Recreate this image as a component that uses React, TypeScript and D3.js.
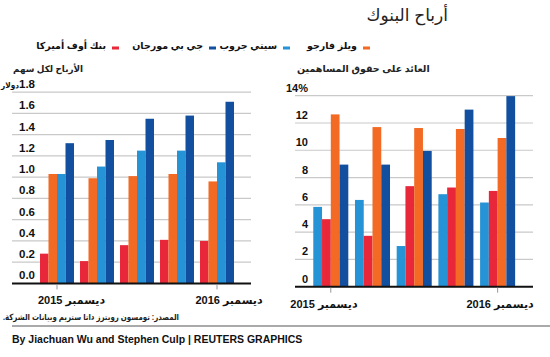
import React from "react";
import * as d3 from "d3";

const groups = ["g1", "g2", "g3", "g4", "g5"];

// EPS (dollars)
const epsSeries = ["boa", "wfc", "citi", "jpm"];
const epsBoa = [0.28, 0.21, 0.36, 0.41, 0.40];
const epsWfc = [1.03, 0.99, 1.01, 1.03, 0.96];
const epsCiti = [1.03, 1.10, 1.25, 1.25, 1.14];
const epsJpm = [1.32, 1.35, 1.55, 1.58, 1.71];
const epsTicks = [0, 0.2, 0.4, 0.6, 0.8, 1.0, 1.2, 1.4, 1.6, 1.8];

// ROE (%)
const roeSeries = ["citi", "boa", "wfc", "jpm"];
const roeCiti = [5.85, 6.36, 2.98, 6.78, 6.17];
const roeBoa = [4.95, 3.73, 7.37, 7.27, 7.02];
const roeWfc = [12.63, 11.7, 11.63, 11.56, 10.9];
const roeJpm = [8.95, 8.95, 9.95, 12.98, 13.97];
const roeTicks = [0, 2, 4, 6, 8, 10, 12, 14];

const xLabels = ["ديسمبر 2015", "ديسمبر 2016"];
const legendKeys = ["wfc", "citi", "jpm", "boa"];
const legendNames = ["ويلز فارجو", "سيتي جروب", "جي بي مورجان", "بنك أوف أميركا"];

const COLORS: Record<string, string> = {
  boa: "#e8283a",
  wfc: "#f26a24",
  citi: "#2593d5",
  jpm: "#12509f",
};

const FONT = "Arial, 'Liberation Sans', 'DejaVu Sans', sans-serif";

function Chart({
  series,
  values,
  ticks,
  yDomain,
  yRange,
  xRange,
  pInner,
  pOuter,
  gridX,
  labelX,
  labelSize,
  fmt,
  topSuffix,
  xLabelDx,
  xLabelY,
  unitLeft,
}: any) {
  const x = d3.scaleBand().domain(groups).range(xRange).paddingInner(pInner).paddingOuter(pOuter);
  const xi = d3.scaleBand().domain(series).range([0, x.bandwidth()]);
  const y = d3.scaleLinear().domain(yDomain).range(yRange);
  const ends = [groups[0], groups[groups.length - 1]];
  return (
    <g>
      {ticks.map((t: number, i: number) =>
        t === 0 ? null : (
          <line key={"g" + i} x1={gridX[0]} x2={gridX[1]} y1={y(t)} y2={y(t)} stroke="#c9c9c9" strokeWidth={1.2} />
        )
      )}
      {ticks.map((t: number, i: number) => (
        <text
          key={"t" + i}
          x={labelX}
          y={y(t) - 4}
          textAnchor="end"
          fontFamily={FONT}
          fontWeight="bold"
          fontSize={labelSize}
          fill="#111"
        >
          {fmt(t)}
          {i === ticks.length - 1 && topSuffix ? <tspan>{topSuffix}</tspan> : null}
        </text>
      ))}
      {unitLeft ? (
        <text
          x={unitLeft}
          y={y(ticks[ticks.length - 1]) - 4}
          textAnchor="start"
          textLength={18}
          lengthAdjust="spacingAndGlyphs"
          fontFamily={FONT}
          fontWeight="bold"
          fontSize={8}
          fill="#111"
        >
          دولار
        </text>
      ) : null}
      {groups.map((g, gi) => (
        <g key={g} transform={`translate(${x(g)},0)`}>
          {series.map((s: string, si: number) => {
            const v = values[si][gi];
            return <rect key={s} x={xi(s)} y={y(v)} width={xi.bandwidth()} height={y(0) - y(v)} fill={COLORS[s]} />;
          })}
        </g>
      ))}
      <line x1={gridX[0]} x2={gridX[1]} y1={y(0)} y2={y(0)} stroke="#111" strokeWidth={2} />
      {ends.map((g, i) => {
        const cx = (x(g) as number) + x.bandwidth() / 2;
        return (
          <g key={"e" + i}>
            <line x1={cx} x2={cx} y1={y(0) + 1} y2={y(0) + 6} stroke="#999" strokeWidth={1} />
            <text
              x={(x(g) as number) + xLabelDx[i]}
              y={xLabelY}
              textAnchor="middle"
              direction="rtl"
              fontFamily={FONT}
              fontWeight="bold"
              fontSize={11}
              fill="#111"
            >
              {xLabels[i]}
            </text>
          </g>
        );
      })}
    </g>
  );
}

export default function App() {
  const legendSwatchX = [363, 283, 209, 112];
  return (
    <svg width={550} height={357} style={{ position: "absolute", left: 0, top: 0, background: "#fff" }}>
      <rect width={550} height={357} fill="#fff" />
      <text x={448} y={21} textAnchor="end" fontFamily={FONT} fontSize={17} fill="#222">
        أرباح البنوك
      </text>
      {legendKeys.map((k, i) => (
        <g key={k}>
          <rect x={legendSwatchX[i]} y={46.5} width={7} height={3} fill={COLORS[k]} />
          <text x={legendSwatchX[i] - 6} y={49} textAnchor="end" fontFamily={FONT} fontWeight="bold" fontSize={9.5} fill="#111">
            {legendNames[i]}
          </text>
        </g>
      ))}
      <text x={13} y={72} textAnchor="start" fontFamily={FONT} fontWeight="bold" fontSize={8.8} fill="#222">
        الأرباح لكل سهم
      </text>
      <text x={297} y={72} textAnchor="start" fontFamily={FONT} fontWeight="bold" fontSize={9.5} fill="#222">
        العائد على حقوق المساهمين
      </text>
      <Chart
        series={epsSeries}
        values={[epsBoa, epsWfc, epsCiti, epsJpm]}
        ticks={epsTicks}
        yDomain={[0, 1.8]}
        yRange={[283.4, 92.2]}
        xRange={[37, 237]}
        pInner={0.15}
        pOuter={0.075}
        gridX={[12, 251]}
        labelX={35}
        labelSize={11.5}
        fmt={(t: number) => d3.format(".1f")(t)}
        topSuffix={null}
        xLabelDx={[31.5, 29]}
        xLabelY={303.5}
        unitLeft={1}
      />
      <Chart
        series={roeSeries}
        values={[roeCiti, roeBoa, roeWfc, roeJpm]}
        ticks={roeTicks}
        yDomain={[0, 14]}
        yRange={[286.7, 95.7]}
        xRange={[306.6, 521.8]}
        pInner={0.16}
        pOuter={0.16}
        gridX={[295, 533]}
        labelX={308}
        labelSize={11}
        fmt={(t: number) => String(t)}
        topSuffix={"%"}
        xLabelDx={[10.7, 20]}
        xLabelY={308}
        unitLeft={null}
      />
      <text
        x={91}
        y={320}
        textAnchor="middle"
        direction="rtl"
        textLength={176}
        lengthAdjust="spacingAndGlyphs"
        fontFamily={FONT}
        fontWeight="bold"
        fontSize={8.5}
        fill="#222"
      >
        المصدر: تومسون رويترز داتا ستريم وبيانات الشركة.
      </text>
      <line x1={12} x2={550} y1={326} y2={326} stroke="#555" strokeWidth={1} />
      <text x={12} y={343} fontFamily={FONT} fontWeight="bold" fontSize={10.5} fill="#111">
        By Jiachuan Wu and Stephen Culp | REUTERS GRAPHICS
      </text>
    </svg>
  );
}
